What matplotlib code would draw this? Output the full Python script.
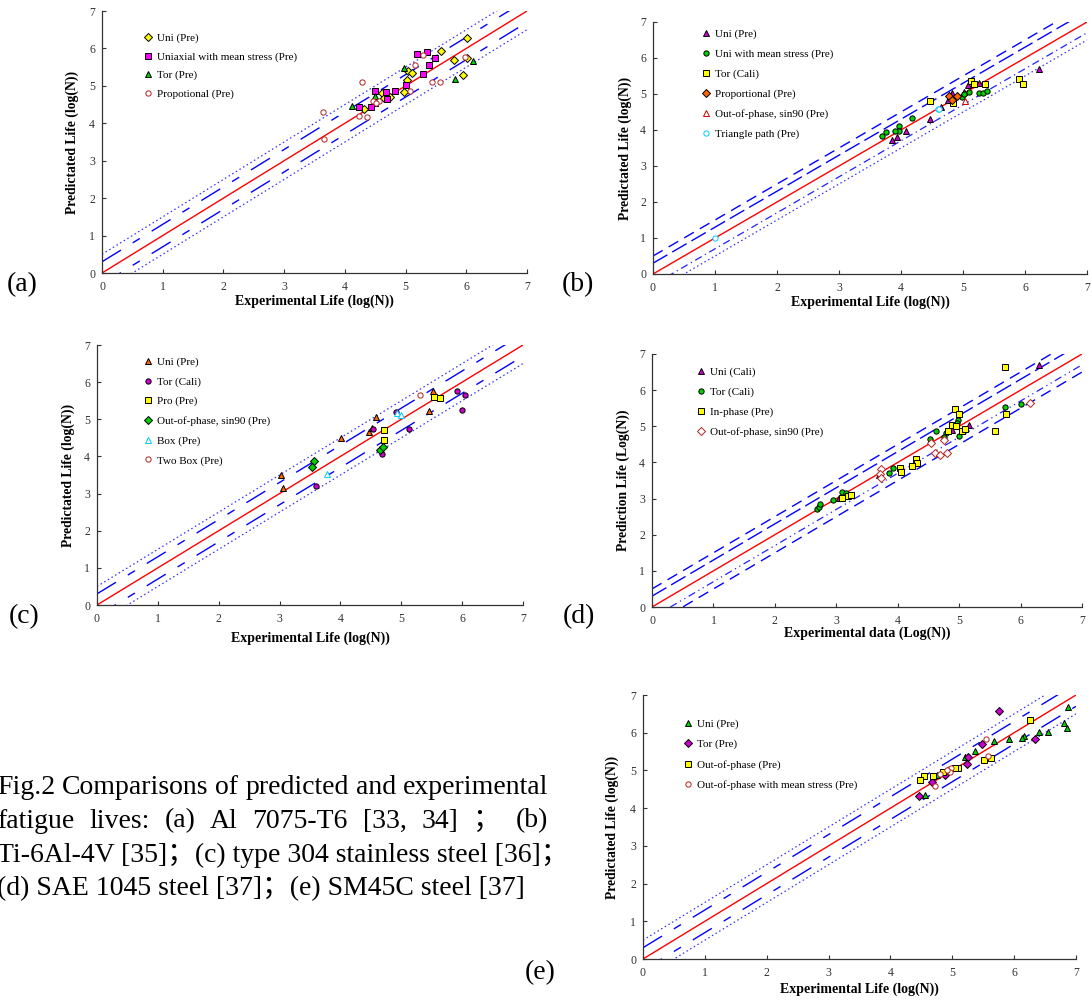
import numpy as np
import matplotlib
matplotlib.use('Agg')
import matplotlib.pyplot as plt

# ── Style ─────────────────────────────────────────────────────────────────────
plt.rcParams.update({
    'font.family'      : ['Liberation Serif', 'Noto Sans CJK SC'],
    'axes.linewidth'   : 0.9,
    'axes.edgecolor'   : '#333333',
    'xtick.direction'  : 'in',
    'ytick.direction'  : 'in',
    'xtick.major.size' : 3,
    'ytick.major.size' : 3,
    'xtick.major.width': 0.8,
    'ytick.major.width': 0.8,
    'xtick.color'      : '#333333',
    'ytick.color'      : '#333333',
    'xtick.labelsize'  : 8.5,
    'ytick.labelsize'  : 8.5,
})

W, H = 1092, 1000
ticks = [0, 1, 2, 3, 4, 5, 6, 7]
band_offsets = [0.3, 0.5]          # factor-of-2 and factor-of-3 bands (log scale)

# ── (a) Al 7075-T6 ────────────────────────────────────────────────────────────
a_uni_x  = [6.02, 5.58, 5.79, 6.02, 5.95, 5.04, 5.10, 5.02, 4.97, 4.61, 4.65, 4.74, 4.31]
a_uni_y  = [6.28, 5.93, 5.69, 5.74, 5.28, 5.40, 5.35, 5.16, 4.83, 4.82, 4.68, 4.71, 4.37]
a_mean_x = [5.19, 5.35, 5.49, 5.39, 5.28, 5.01, 4.83, 4.67, 4.50, 4.70, 4.50, 4.43, 4.23]
a_mean_y = [5.84, 5.90, 5.74, 5.55, 5.33, 5.02, 4.85, 4.84, 4.85, 4.66, 4.53, 4.43, 4.43]
a_tor_x  = [4.97, 6.11, 5.81, 4.49, 4.11]
a_tor_y  = [5.47, 5.66, 5.19, 4.74, 4.46]
a_prop_x = [4.29, 5.16, 5.29, 5.98, 5.43, 5.57, 5.08, 4.47, 4.57, 4.52, 4.24, 4.36, 3.64, 3.65]
a_prop_y = [5.11, 5.57, 5.82, 5.78, 5.09, 5.09, 4.86, 4.60, 4.60, 4.55, 4.19, 4.18, 4.29, 3.58]

# ── (b) Ti-6Al-4V ─────────────────────────────────────────────────────────────
b_uni_x  = [6.23, 5.26, 5.08, 5.02, 4.83, 4.76, 4.65, 4.47, 4.08, 3.94, 3.86]
b_uni_y  = [5.70, 5.31, 5.26, 5.06, 5.04, 4.83, 4.65, 4.30, 3.97, 3.81, 3.72]
b_mean_x = [4.18, 3.97, 3.97, 3.91, 3.75, 3.69, 5.10, 5.26, 5.33, 5.39, 4.98, 5.01]
b_mean_y = [4.32, 4.12, 3.98, 3.98, 3.95, 3.83, 5.06, 5.02, 5.04, 5.07, 4.93, 4.99]
b_tor_x  = [4.46, 4.84, 5.13, 5.17, 5.36, 5.90, 5.97]
b_tor_y  = [4.81, 4.74, 5.36, 5.27, 5.28, 5.42, 5.28]
b_prop_x = [4.78, 4.83, 4.91]
b_prop_y = [4.94, 4.83, 4.95]
b_oop_x  = [5.04]
b_oop_y  = [4.81]
b_tri_x  = [4.59, 4.62, 1.00]
b_tri_y  = [4.57, 4.57, 1.00]

# ── (c) type 304 stainless steel ──────────────────────────────────────────────
c_uni_x  = [3.02, 3.06, 4.01, 4.58, 4.47, 4.52, 5.52, 5.46]
c_uni_y  = [3.50, 3.14, 4.49, 5.05, 4.67, 4.77, 5.76, 5.21]
c_tor_x  = [3.60, 4.53, 4.69, 5.12, 5.92, 6.05, 6.00, 4.92]
c_tor_y  = [3.20, 4.73, 4.07, 4.73, 5.76, 5.65, 5.24, 5.19]
c_pro_x  = [4.72, 4.72, 5.54, 5.64]
c_pro_y  = [4.70, 4.44, 5.61, 5.57]
c_oop_x  = [3.57, 3.54, 4.65, 4.70]
c_oop_y  = [3.87, 3.71, 4.18, 4.25]
c_box_x  = [3.78, 4.93, 5.00]
c_box_y  = [3.52, 5.18, 5.11]
c_two_x  = [5.30]
c_two_y  = [5.65]

# ── (d) SAE 1045 steel ────────────────────────────────────────────────────────
d_uni_x  = [6.30, 5.16, 3.05, 3.70, 4.88]
d_uni_y  = [6.70, 5.03, 3.02, 3.65, 4.90]
d_tor_x  = [6.00, 5.74, 4.98, 4.96, 5.00, 4.62, 4.78, 4.76, 4.53, 3.92, 3.85,
            3.10, 3.16, 2.94, 2.68, 2.72, 2.73]
d_tor_y  = [5.62, 5.54, 5.17, 5.10, 4.73, 4.88, 4.81, 4.70, 4.66, 3.84, 3.72,
            3.19, 3.16, 2.96, 2.72, 2.78, 2.85]
d_in_x   = [5.74, 5.77, 5.58, 4.94, 5.00, 4.89, 4.95, 4.82, 5.04, 5.09, 4.29,
            4.31, 4.23, 4.04, 4.06, 3.09, 3.19, 3.24]
d_in_y   = [6.64, 5.35, 4.86, 5.47, 5.35, 5.03, 5.01, 4.87, 4.87, 4.93, 4.09,
            3.98, 3.90, 3.84, 3.74, 3.01, 3.07, 3.10]
d_oop_x  = [6.15, 4.54, 4.76, 4.60, 4.69, 4.81, 3.72, 3.71, 3.72]
d_oop_y  = [5.65, 4.53, 4.63, 4.25, 4.20, 4.25, 3.83, 3.69, 3.56]

# ── (e) SM45C steel ───────────────────────────────────────────────────────────
e_uni_x  = [6.87, 6.80, 6.85, 6.55, 6.40, 6.16, 6.13, 5.92, 5.68, 5.36, 5.21,
            4.99, 4.76, 4.56]
e_uni_y  = [6.67, 6.25, 6.13, 6.02, 6.01, 5.91, 5.87, 5.83, 5.79, 5.52, 5.35,
            5.06, 4.88, 4.34]
e_tor_x  = [5.76, 6.34, 5.48, 5.25, 5.23, 4.89, 4.68, 4.46]
e_tor_y  = [6.58, 5.84, 5.69, 5.35, 5.18, 4.88, 4.68, 4.33]
e_oop_x  = [6.26, 5.62, 5.51, 5.10, 5.04, 4.85, 4.69, 4.54, 4.47]
e_oop_y  = [6.34, 5.34, 5.28, 5.06, 5.06, 4.95, 4.84, 4.85, 4.75]
e_mean_x = [5.54, 5.58, 4.94, 4.98, 4.96, 4.72, 4.80, 4.91]
e_mean_y = [5.83, 5.39, 5.03, 5.07, 4.97, 4.60, 4.90, 5.00]

# ── Colours / line styles ─────────────────────────────────────────────────────
YEL, MAG, GRN = '#FFFF00', '#FF00FF', '#00D000'
PUR, ORG, CYN = '#CC00CC', '#FF6600', '#00CCFF'
DRED, RED, BLUE = '#B22222', '#FF0000', '#0000FF'

estilos = {
    'long' : dict(color=BLUE, lw=1.0, dashes=(16, 10, 6, 10)),
    'dot'  : dict(color='#3030FF', lw=0.9, dashes=(1.2, 2.2)),
    'dash' : dict(color=BLUE, lw=1.0, dashes=(8, 5)),
    'dash2': dict(color=BLUE, lw=1.0, dashes=(12, 4)),
    'dd'   : dict(color='#2020FF', lw=0.9, dashes=(6, 3, 1, 3)),
    'ddd'  : dict(color='#2020FF', lw=0.9, dashes=(6, 3, 1, 3, 1, 3)),
}


def rect(x0, x1, y0, y1):
    return [x0 / W, 1 - y1 / H, (x1 - x0) / W, (y1 - y0) / H]


def painel(box, bandas, series, xlabel, ylabel, xlab_px, ylab_px,
           leg_px, leg_sp):
    x0, x1, y0, y1 = box
    ax = fig.add_axes(rect(x0, x1, y0, y1))
    ends = np.array([0.0, 7.0])
    ax.plot(ends, ends, color=RED, lw=1.0, zorder=2)
    # upper inner, upper outer, lower inner, lower outer
    for off, est in zip([band_offsets[0], band_offsets[1],
                         -band_offsets[0], -band_offsets[1]], bandas):
        ax.plot(ends, ends + off, zorder=2, **estilos[est])
    for xs, ys, mk, fc, ec, lab in series:
        ms = {'^': 4.5, 'D': 3.6}.get(mk, 3.8)
        ax.plot(xs, ys, ls='none', marker=mk, ms=ms, mfc=fc, mec=ec,
                mew=0.7, label=lab, zorder=3)
    ax.set_xlim(0, 7)
    ax.set_ylim(0, 7)
    ax.set_xticks(ticks)
    ax.set_yticks(ticks)
    ax.tick_params(axis='x', pad=6)
    ax.tick_params(axis='y', pad=5)
    ax.spines[['top', 'right']].set_visible(False)
    ax.set_xlabel(xlabel, fontsize=10, fontweight='bold')
    ax.set_ylabel(ylabel, fontsize=9.8, fontweight='bold')
    ax.xaxis.label.set_va('center')
    ax.yaxis.label.set_va('center')
    ax.xaxis.set_label_coords(0.5, -xlab_px / (y1 - y0))
    ax.yaxis.set_label_coords(-ylab_px / (x1 - x0), 0.5)
    ax.legend(loc='upper left', bbox_to_anchor=(leg_px[0] / W, 1 - leg_px[1] / H),
              bbox_transform=fig.transFigure, frameon=False, fontsize=8,
              handlelength=0.6, handletextpad=0.5, labelspacing=leg_sp,
              borderpad=0, borderaxespad=0)
    return ax


fig = plt.figure(figsize=(W / 100, H / 100), dpi=100)

XL = 'Experimental Life (log(N))'
YL = 'Predictated Life (log(N))'

painel((102, 527, 11, 273), ['long', 'dot', 'long', 'dot'],
       [(a_uni_x, a_uni_y, 'D', YEL, 'black', 'Uni (Pre)'),
        (a_mean_x, a_mean_y, 's', MAG, 'black', 'Uniaxial with mean stress (Pre)'),
        (a_tor_x, a_tor_y, '^', GRN, 'black', 'Tor (Pre)'),
        (a_prop_x, a_prop_y, 'o', 'white', DRED, 'Propotional (Pre)')],
       XL, YL, 28, 30, (145, 33), 0.78)

painel((653, 1087, 22, 274), ['dash2', 'dash', 'dd', 'dot'],
       [(b_uni_x, b_uni_y, '^', PUR, 'black', 'Uni (Pre)'),
        (b_mean_x, b_mean_y, 'o', GRN, 'black', 'Uni with mean stress (Pre)'),
        (b_tor_x, b_tor_y, 's', YEL, 'black', 'Tor (Cali)'),
        (b_prop_x, b_prop_y, 'D', ORG, 'black', 'Proportional (Pre)'),
        (b_oop_x, b_oop_y, '^', 'white', '#CC0000', 'Out-of-phase, sin90 (Pre)'),
        (b_tri_x, b_tri_y, 'o', 'white', CYN, 'Triangle path (Pre)')],
       XL, YL, 28, 28, (702.6, 29), 0.90)

painel((97, 523, 345, 605), ['long', 'dot', 'long', 'dot'],
       [(c_uni_x, c_uni_y, '^', ORG, 'black', 'Uni (Pre)'),
        (c_tor_x, c_tor_y, 'o', PUR, 'black', 'Tor (Cali)'),
        (c_pro_x, c_pro_y, 's', YEL, 'black', 'Pro (Pre)'),
        (c_oop_x, c_oop_y, 'D', GRN, 'black', 'Out-of-phase, sin90 (Pre)'),
        (c_box_x, c_box_y, '^', 'white', CYN, 'Box (Pre)'),
        (c_two_x, c_two_y, 'o', 'white', DRED, 'Two Box (Pre)')],
       XL, YL, 33, 29, (145, 357), 0.87)

painel((652, 1082, 354, 607), ['dash2', 'dash', 'ddd', 'dash'],
       [(d_uni_x, d_uni_y, '^', PUR, 'black', 'Uni (Cali)'),
        (d_tor_x, d_tor_y, 'o', GRN, 'black', 'Tor (Cali)'),
        (d_in_x, d_in_y, 's', YEL, 'black', 'In-phase (Pre)'),
        (d_oop_x, d_oop_y, 'D', 'white', DRED, 'Out-of-phase, sin90 (Pre)')],
       'Experimental data (Log(N))', 'Prediction Life (Log(N))', 26, 29,
       (697.6, 367), 0.91)

painel((643, 1076, 695, 959), ['long', 'dot', 'long', 'dot'],
       [(e_uni_x, e_uni_y, '^', GRN, 'black', 'Uni (Pre)'),
        (e_tor_x, e_tor_y, 'D', PUR, 'black', 'Tor (Pre)'),
        (e_oop_x, e_oop_y, 's', YEL, 'black', 'Out-of-phase (Pre)'),
        (e_mean_x, e_mean_y, 'o', 'white', DRED, 'Out-of-phase with mean stress (Pre)')],
       XL, YL, 30, 31, (685, 719), 0.93)

# ── Panel letters ─────────────────────────────────────────────────────────────
CAP = 20
for lab, (px, py) in zip(['(a)', '(b)', '(c)', '(d)', '(e)'],
                         [(22, 285), (578, 285), (24, 617), (579, 617), (540, 973)]):
    fig.text(px / W, 1 - py / H, lab, fontsize=CAP, ha='center', va='center')

# ── Caption (justified lines) ─────────────────────────────────────────────────
renderer = fig.canvas.get_renderer()


def linha_justificada(words, x0, x1, y):
    textos = [fig.text(0, 1 - y / H, w, fontsize=CAP, ha='left', va='center')
              for w in words]
    larg = [t.get_window_extent(renderer).width for t in textos]
    gap = ((x1 - x0) - sum(larg)) / (len(words) - 1)
    pos = x0
    for t, w in zip(textos, larg):
        t.set_x(pos / W)
        pos += w + gap


linha_justificada(['Fig.2', 'Comparisons', 'of', 'predicted', 'and', 'experimental'],
                  -3, 548, 787)
linha_justificada(['fatigue', 'lives:', '(a)', 'Al', '7075-T6', '[33,', '34]', '；', '(b)'],
                  -3, 548, 821)
fig.text(-3 / W, 1 - 855 / H, 'Ti-6Al-4V [35]；(c) type 304 stainless steel [36]；',
         fontsize=CAP, ha='left', va='center')
fig.text(-3 / W, 1 - 889 / H, '(d) SAE 1045 steel [37]；(e) SM45C steel [37]',
         fontsize=CAP, ha='left', va='center')

fig.savefig('out.png', dpi=100)
